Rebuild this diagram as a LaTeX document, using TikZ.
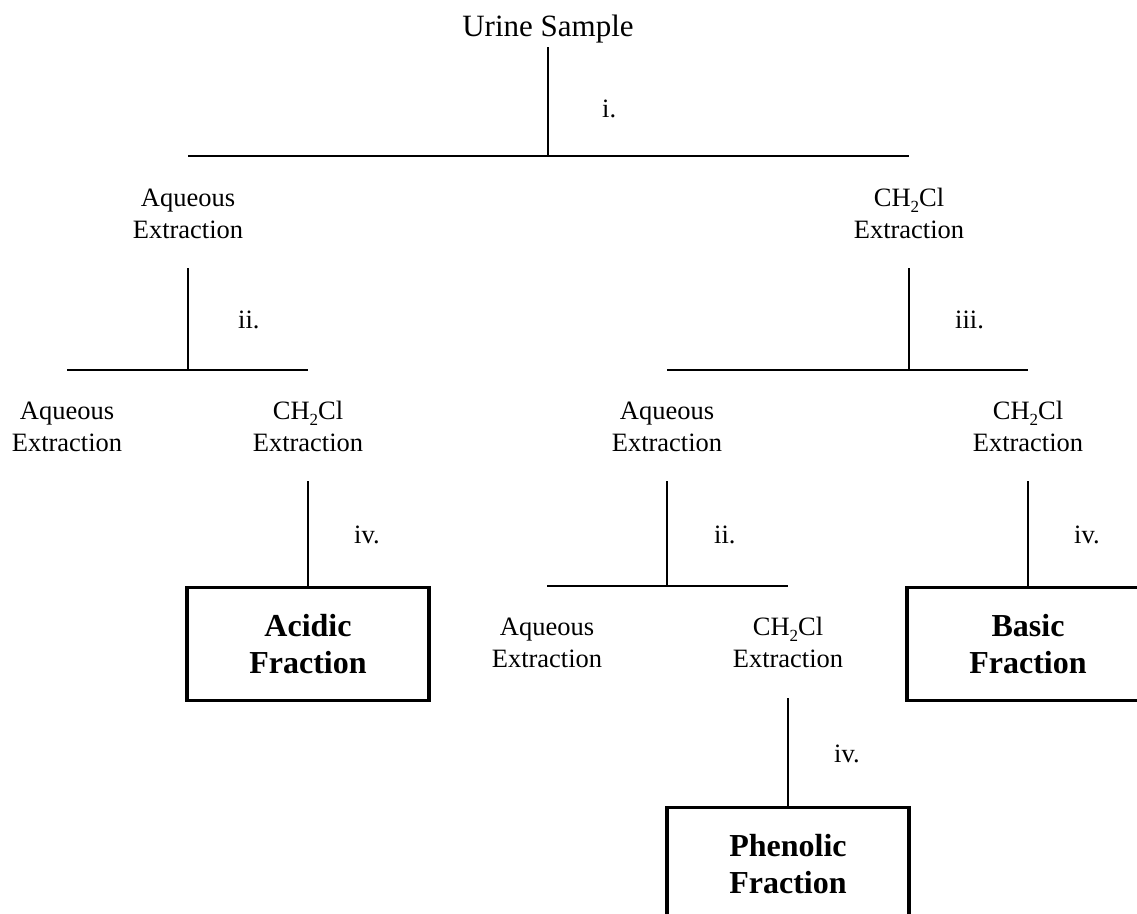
\documentclass[tikz,border=0pt]{standalone}
\usepackage{fontspec}
\setmainfont{Liberation Serif}
\newcommand{\subtwo}{\raisebox{-0.22em}{\fontsize{17}{17}\selectfont 2}}
\begin{document}
\begin{tikzpicture}[x=1pt,y=-1pt,
  lab/.style={font=\fontsize{26.5}{31.5}\selectfont, align=center, inner sep=0pt, anchor=base},
  stp/.style={font=\fontsize{26.5}{31.5}\selectfont, inner sep=0pt, anchor=base west},
  ttl/.style={font=\fontsize{31}{37}\selectfont, inner sep=0pt, anchor=base},
  stem/.style={line width=1.6pt},
  bar/.style={line width=2.8pt},
  fbox/.style={draw, line width=3.2pt, minimum width=242pt, minimum height=113pt,
    font=\fontsize{32}{37}\selectfont\bfseries, align=center, inner sep=0pt, anchor=north},
]
\clip (0,0) rectangle (1137,913);
\fill[white] (0,0) rectangle (1137,913);

% level 1
\node[ttl] (urine) at (548,36) {Urine Sample};
\coordinate (j1) at (548,156);
\node[stp] (s1) at (602,117) {i.};

% level 2 (base = last line)
\node[lab] (aq1) at (188,238) {Aqueous\\Extraction};
\node[lab] (ch1) at (909,238) {CH\subtwo Cl\\Extraction};
\coordinate (j2l) at (188,370);
\coordinate (j2r) at (909,370);
\node[stp] (s2l) at (238,328) {ii.};
\node[stp] (s2r) at (955,328) {iii.};

% level 3
\node[lab] (aq2) at (67,451) {Aqueous\\Extraction};
\node[lab] (ch2) at (308,451) {CH\subtwo Cl\\Extraction};
\node[lab] (aq3) at (667,451) {Aqueous\\Extraction};
\node[lab] (ch3) at (1028,451) {CH\subtwo Cl\\Extraction};
\node[stp] (s3a) at (354,543) {iv.};
\node[stp] (s3b) at (714,543) {ii.};
\node[stp] (s3c) at (1074,543) {iv.};
\coordinate (j3) at (667,586);

\node[fbox] (acid) at (308,586) {Acidic\\Fraction};
\node[fbox] (basic) at (1028,586) {Basic\\Fraction};

% level 4
\node[lab] (aq4) at (547,667) {Aqueous\\Extraction};
\node[lab] (ch4) at (788,667) {CH\subtwo Cl\\Extraction};
\node[stp] (s4) at (834,762) {iv.};
\node[fbox] (phen) at (788,806) {Phenolic\\Fraction};

% connectors
\draw[stem] ([yshift=-11pt]urine.base) -- (j1);
\draw[bar] (aq1 |- j1) -- (ch1 |- j1);

\draw[stem] ([yshift=-30pt]aq1.base) -- (j2l);
\draw[stem] ([yshift=-30pt]ch1.base) -- (j2r);
\draw[bar] (aq2 |- j2l) -- (ch2 |- j2l);
\draw[bar] (aq3 |- j2r) -- (ch3 |- j2r);

\draw[stem] ([yshift=-30pt]ch2.base) -- (acid.north);
\draw[stem] ([yshift=-30pt]aq3.base) -- (j3);
\draw[stem] ([yshift=-30pt]ch3.base) -- (basic.north);
\draw[bar] (aq4 |- j3) -- (ch4 |- j3);

\draw[stem] ([yshift=-31pt]ch4.base) -- (phen.north);
\end{tikzpicture}
\end{document}
